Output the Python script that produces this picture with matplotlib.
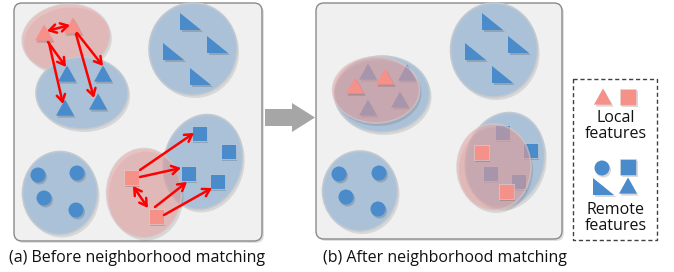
import matplotlib
matplotlib.use("Agg")
import matplotlib.pyplot as plt
from matplotlib.patches import Ellipse, Polygon, Rectangle, Circle, FancyBboxPatch, FancyArrowPatch

# ---------------- data (pixel coordinates of the diagram) ----------------
captions = ["(a) Before neighborhood matching", "(b) After neighborhood matching"]
caption_x = [137, 445]
legend_labels = ["Local\nfeatures", "Remote\nfeatures"]

# panels: x0, y0, x1, y1
panels = [(14, 3, 262, 241), (316, 3, 562, 239)]

# ellipses: cx, cy, w, h, angle, kind
ellipses_a = [
    (66, 38, 88, 67, -8, "red"),
    (82, 93, 92, 72, 0, "blue"),
    (193, 49, 88, 92, 0, "blue"),
    (60, 193, 75, 83, 0, "blue"),
    (203, 162, 78, 96, 15, "blue"),
    (144, 193, 75, 89, 0, "red"),
]
ellipses_b = [
    (193 + 301, 50, 87, 94, 0, "blue"),
    (360, 191, 75, 80, 0, "blue"),
    (382, 94, 95, 76, 0, "blue"),
    (505, 160, 78, 96, 15, "blue"),
]
ellipses_b_top = [
    (376, 90, 87, 66, 0, "red"),
    (494, 167, 74, 86, 0, "red"),
]

# markers
tri_red_a = [(44, 33), (73, 26)]
tri_blue_a = [(67, 74), (103, 74), (65, 108), (98, 102)]
rtri_a = [(190, 22), (173, 52), (217, 45), (200, 77)]
dots_a = [(38, 175), (77, 173), (44, 198), (76, 210)]
sq_red_a = [(131, 177), (156, 216)]
sq_blue_a = [(199, 133), (228, 151), (188, 173), (217, 181)]

tri_under_b = [(368, 72), (407, 73), (368, 108), (400, 100)]
tri_red_b = [(355, 86), (385, 77)]
rtri_b = [(492, 22), (475, 52), (518, 45), (502, 75)]
dots_b = [(339, 174), (379, 173), (346, 197), (378, 209)]
sq_under_b = [(530, 150), (502, 132), (490, 173), (518, 181)]
sq_red_b = [(481, 152), (506, 191)]

# red match arrows: (x0, y0, x1, y1, double-headed)
arrows = [
    (47, 31, 70, 25, True),
    (48, 42, 66, 67, False),
    (49, 43, 63, 104, False),
    (77, 33, 103, 66, False),
    (76, 34, 94, 98, False),
    (133, 186, 148, 208, True),
    (140, 170, 194, 133, False),
    (140, 177, 181, 168, False),
    (155, 207, 187, 182, False),
    (164, 215, 212, 188, False),
]

# legend
legend_box = (573, 79, 657, 240)
leg_red = [("tri", 603, 97), ("sq", 628, 97)]
leg_blue = [("dot", 602, 168), ("sq", 628, 167), ("rtri", 603, 187), ("tri", 628, 186)]
leg_text_y = [126, 218]

# ---------------- style ----------------
BLUE_FILL = "#a9c0d8"
BLUE_EDGE = "#c2c9d0"
RED_FILL = "#e6a6a6"
BLUE_MK = "#4a8bcb"
RED_MK = "#f59189"
SHADOW = "#000000"

plt.rcParams['font.family'] = ['Open Sans', 'DejaVu Sans']

fig = plt.figure(figsize=(6.74, 2.72), dpi=100)
ax = fig.add_axes([0, 0, 1, 1])
ax.set_xlim(0, 674)
ax.set_ylim(272, 0)
ax.axis("off")


def panel(x0, y0, x1, y1):
    ax.add_patch(FancyBboxPatch((x0 + 2, y0 + 2), x1 - x0, y1 - y0,
                                boxstyle="round,pad=0,rounding_size=8",
                                fc=SHADOW, ec="none", alpha=0.12, zorder=0))
    ax.add_patch(FancyBboxPatch((x0, y0), x1 - x0, y1 - y0,
                                boxstyle="round,pad=0,rounding_size=8",
                                fc="#f0f0f0", ec="#8a8a8a", lw=1.0, zorder=1))


def ellipse(cx, cy, w, h, ang, kind, z):
    ax.add_patch(Ellipse((cx + 2, cy + 3), w, h, angle=ang, fc=SHADOW,
                         ec="none", alpha=0.10, zorder=z))
    if kind == "blue":
        ax.add_patch(Ellipse((cx, cy), w, h, angle=ang, fc=BLUE_FILL,
                             ec=BLUE_EDGE, lw=1.2, alpha=0.95, zorder=z + 0.1))
    else:
        ax.add_patch(Ellipse((cx, cy), w, h, angle=ang, fc=RED_FILL,
                             ec="#d8c8c8", lw=1.2, alpha=0.62, zorder=z + 0.1))


def tri(x, y, c, z, s=9):
    pts = [(x - s, y + s * 0.85), (x + s, y + s * 0.85), (x, y - s * 0.95)]
    ax.add_patch(Polygon([(px + 1.5, py + 2) for px, py in pts], closed=True,
                         fc=SHADOW, ec="none", alpha=0.15, zorder=z - 0.05))
    ax.add_patch(Polygon(pts, closed=True, fc=c, ec="none", zorder=z))


def rtri(x, y, c, z):
    pts = [(x - 10, y - 9), (x - 10, y + 8), (x + 11, y + 8)]
    ax.add_patch(Polygon([(px + 1.5, py + 2) for px, py in pts], closed=True,
                         fc=SHADOW, ec="none", alpha=0.15, zorder=z - 0.05))
    ax.add_patch(Polygon(pts, closed=True, fc=c, ec="none", zorder=z))


def sq(x, y, c, z, s=15):
    ax.add_patch(Rectangle((x - s / 2 + 1.5, y - s / 2 + 2), s, s, fc=SHADOW,
                           ec="none", alpha=0.15, zorder=z - 0.05))
    ax.add_patch(Rectangle((x - s / 2, y - s / 2), s, s, fc=c, ec="#d9d9d9",
                           lw=0.4, zorder=z))


def dot(x, y, c, z, r=7.5):
    ax.add_patch(Circle((x + 1.5, y + 2), r, fc=SHADOW, ec="none",
                        alpha=0.15, zorder=z - 0.05))
    ax.add_patch(Circle((x, y), r, fc=c, ec="none", zorder=z))


# panels
for p in panels:
    panel(*p)

# ---- panel (a) ----
for i, e in enumerate(ellipses_a):
    ellipse(*e, z=2 + i * 0.2)
for x, y in tri_red_a:
    tri(x, y, RED_MK, 5)
for x, y in tri_blue_a:
    tri(x, y, BLUE_MK, 5)
for x, y in rtri_a:
    rtri(x, y, BLUE_MK, 5)
for x, y in dots_a:
    dot(x, y, BLUE_MK, 5)
for x, y in sq_red_a:
    sq(x, y, RED_MK, 5)
for x, y in sq_blue_a:
    sq(x, y, BLUE_MK, 5)
for x0, y0, x1, y1, dbl in arrows:
    style = "<->,head_length=5,head_width=3" if dbl else "->,head_length=5,head_width=3"
    ax.add_patch(FancyArrowPatch((x0, y0), (x1, y1), arrowstyle=style,
                                 color="#ff0000", lw=1.8, shrinkA=0, shrinkB=0,
                                 zorder=6))

# ---- panel (b) ----
for i, e in enumerate(ellipses_b):
    ellipse(*e, z=2 + i * 0.2)
for x, y in rtri_b:
    rtri(x, y, BLUE_MK, 5)
for x, y in dots_b:
    dot(x, y, BLUE_MK, 5)
for x, y in tri_under_b:
    tri(x, y, BLUE_MK, 5)
for x, y in sq_under_b:
    sq(x, y, BLUE_MK, 5)
for i, e in enumerate(ellipses_b_top):
    ellipse(*e, z=6 + i * 0.2)
for x, y in tri_red_b:
    tri(x, y, RED_MK, 8)
for x, y in sq_red_b:
    sq(x, y, RED_MK, 8)

# ---- transition arrow ----
ax.add_patch(Polygon([(265, 109), (292, 109), (292, 103), (315, 117.5),
                      (292, 132), (292, 126), (265, 126)], closed=True,
                     fc="#a6a6a6", ec="none", zorder=3))

# ---- legend ----
lx0, ly0, lx1, ly1 = legend_box
ax.add_patch(Rectangle((lx0, ly0), lx1 - lx0, ly1 - ly0, fc="white",
                       ec="#404040", lw=1.0, ls=(0, (3, 2)), zorder=2))
for kind, x, y in leg_red:
    if kind == "tri":
        tri(x, y, RED_MK, 5)
    else:
        sq(x, y, RED_MK, 5, s=16)
for kind, x, y in leg_blue:
    if kind == "tri":
        tri(x, y, BLUE_MK, 5)
    elif kind == "sq":
        sq(x, y, BLUE_MK, 5, s=16)
    elif kind == "dot":
        dot(x, y, BLUE_MK, 5)
    else:
        rtri(x, y, BLUE_MK, 5)
for lab, y in zip(legend_labels, leg_text_y):
    ax.text(616, y, lab, ha="center", va="center", fontsize=11.5,
            color="#111111", linespacing=1.05, zorder=6)

# ---- captions ----
for cap, x in zip(captions, caption_x):
    ax.text(x, 258, cap, ha="center", va="center", fontsize=11.5,
            color="#111111", zorder=6)

fig.savefig("out.png", dpi=100)
